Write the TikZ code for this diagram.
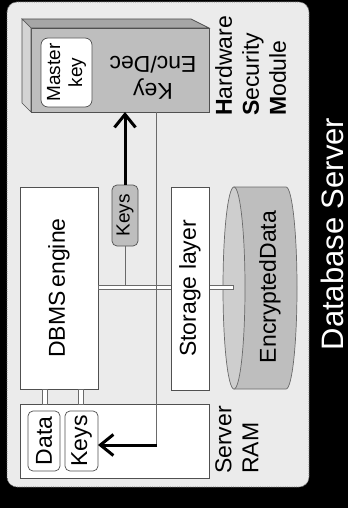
\documentclass[tikz,border=0pt]{standalone}
\usepackage{fontspec}
\setmainfont{Liberation Sans}
\usetikzlibrary{arrows.meta}
\definecolor{bg}{HTML}{EBEBEB}
\definecolor{boxgray}{HTML}{BEBEBE}
\definecolor{topgray}{HTML}{A6A6A6}
\definecolor{sidegray}{HTML}{D4D4D4}
\definecolor{cylface}{HTML}{CECECE}
\definecolor{edge}{HTML}{505050}
\definecolor{linegray}{HTML}{6A6A6A}
\begin{document}
\begin{tikzpicture}[x=1pt,y=-1pt,
  box/.style={draw=edge, line width=0.7pt, fill=white, inner sep=0pt, outer sep=0pt},
  rbox/.style={box, rounded corners=5pt},
  txt/.style={inner sep=0pt, font=\fontsize{23}{27}\selectfont},
  smalltxt/.style={inner sep=0pt, font=\fontsize{19}{22}\selectfont},
  conn/.style={draw=linegray, line width=0.8pt},
  bus/.style={draw=linegray, line width=0.7pt, fill=white},
  thickarrow/.style={draw=black, line width=3pt,
    -{Straight Barb[length=13pt, width=21pt, line width=3pt]}}
]
% background
\fill[black] (0,0) rectangle (348,508);
\useasboundingbox (0,0) rectangle (348,508);
\draw[fill=bg, draw=black!60, densely dotted, line width=0.8pt, rounded corners=10pt] (7,2) rectangle (309,487);

% HSM cuboid
\node[box, fill=boxgray, minimum width=178pt, minimum height=84pt] (hsm) at (120,70) {};
\draw[draw=edge, line width=0.7pt, fill=topgray] (hsm.north west) -- ++(-9,-9) -- ++(169,0) -- (hsm.north east) -- cycle;
\draw[draw=edge, line width=0.7pt, fill=sidegray] (hsm.north west) -- ++(-9,-9) -- ++(0,84) -- (hsm.south west) -- cycle;
\node[rbox, minimum width=51pt, minimum height=69pt, rounded corners=7pt] (master) at (66.5,72.5) {};
\node[smalltxt, rotate=90, align=center] at (master.center) {Master\\key};
\node[txt, rotate=180, align=center] (encdec) at (153,78) {Key\\Enc/Dec};
\node[txt, rotate=90, align=left, anchor=north west] (hsmlabel) at (215,116)
  {\textbf{H}ardware\\\textbf{S}ecurity\\\textbf{M}odule};

% DBMS engine, RAM
\node[box, minimum width=78pt, minimum height=202pt] (dbms) at (59,288) {};
\node[txt, rotate=90] at (dbms.center) {DBMS\,engine};
\node[box, minimum width=189pt, minimum height=74pt] (ram) at (114.5,441) {};
\node[rbox, minimum width=32pt, minimum height=60pt] (ramdata) at (44,441) {};
\node[txt, rotate=90] at (ramdata.center) {Data};
\node[rbox, minimum width=33pt, minimum height=60pt] (ramkeys) at (81.5,441) {};
\node[txt, rotate=90] at (ramkeys.center) {Keys};
\node[txt, rotate=90, align=left, anchor=north west] (ramlabel) at (215,474) {Server\\RAM};

% links DBMS - RAM
\draw[bus] ([xshift=-17pt]dbms.south) rectangle ([xshift=-12pt]dbms.south |- ram.north);
\draw[bus] ([xshift=19pt]dbms.south) rectangle ([xshift=24pt]dbms.south |- ram.north);

% encrypted data cylinder
\fill[boxgray, draw=linegray, line width=0.7pt] (234,187) -- (286,187)
  arc[start angle=-90, end angle=90, x radius=11, y radius=101] -- (234,389) -- cycle;
\draw[fill=cylface, draw=linegray, line width=0.7pt] (234,288) ellipse [x radius=11, y radius=101];
\node[txt, rotate=90] (encdata) at (270,287) {EncryptedData};

% keys packet
\node[rbox, fill=boxgray, minimum width=26pt, minimum height=61pt] (keyspkt) at (125,215.5) {};
\node[smalltxt, rotate=90] at (keyspkt.center) {Keys};

% bus and storage layer
\coordinate (busend) at (233,287);
\draw[conn] (keyspkt.south) -- (keyspkt.south |- busend);
\draw[bus] (dbms.east |- busend) ++(0,-2) rectangle ([yshift=-2pt]busend);
\node[box, minimum width=38pt, minimum height=203pt] (storage) at (190,288.5) {};
\node[txt, rotate=90] at (storage.center) {Storage layer};

% arrows
\draw[thickarrow] (keyspkt.north) -- (keyspkt.north |- hsm.south);
\coordinate (turn) at (156,445);
\draw[conn] (turn |- hsm.south) -- (turn);
\draw[thickarrow] ([xshift=1pt]turn) -- (turn -| ramkeys.east);

% title
\node[inner sep=0pt, rotate=90, text=white, font=\fontsize{31}{36}\selectfont] (title) at (332,234) {Database Server};
\end{tikzpicture}
\end{document}
